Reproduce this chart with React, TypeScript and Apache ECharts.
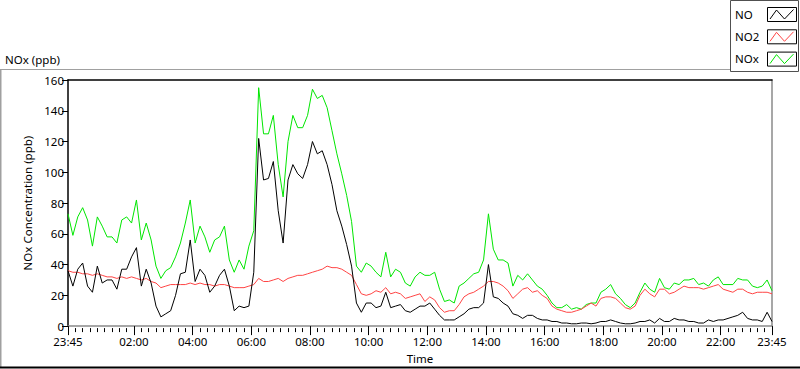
import React, { useEffect, useRef } from 'react';
import * as echarts from 'echarts';

// Sampling: every 10 minutes starting at 23:45 of the previous day (minutes since 00:00)
const START_MIN = -15;
const STEP_MIN = 10;

const NOxValues = [
  73, 59, 71, 77, 69, 52, 71, 65, 58, 58, 54, 69, 71, 67, 82, 56, 67, 56, 39, 31, 36, 38, 45, 54, 67, 82, 54, 65, 58, 48, 56, 58, 65, 43, 35, 43, 37,
  52, 62, 155, 125, 125, 137, 105, 84, 120, 137, 129, 129, 137, 154, 148, 150, 142, 127, 112, 99, 85, 68, 39, 35, 41, 39, 35, 32, 48, 32, 37, 35, 28, 26, 32, 35,
  33, 33, 35, 24, 16, 17, 15, 26, 28, 31, 34, 35, 43, 73, 50, 43, 43, 41, 26, 33, 30, 34, 30, 26, 24, 20, 15, 12, 12, 14, 11, 12, 11, 14, 15,
  15, 22, 24, 27, 21, 18, 14, 12, 15, 22, 28, 24, 22, 31, 25, 24, 28, 27, 30, 30, 31, 27, 28, 26, 30, 32, 27, 27, 27, 31, 30, 30, 26, 25, 26, 30, 23,
];

const NO2Values = [
  36, 35, 35, 34, 34, 33, 34, 33, 32, 32, 31, 32, 31, 32, 31, 30, 31, 29, 28, 25, 26, 27, 27, 27, 27, 28, 27, 28, 27, 27, 26, 27, 27, 26, 25, 25, 25,
  26, 27, 31, 29, 29, 30, 31, 29, 31, 32, 33, 33, 34, 35, 36, 37, 39, 38, 38, 37, 35, 33, 27, 21, 20, 21, 23, 22, 25, 21, 22, 21, 18, 19, 20, 21,
  16, 19, 17, 12, 9, 10, 10, 14, 19, 21, 22, 24, 26, 29, 29, 28, 26, 23, 18, 21, 24, 25, 22, 23, 20, 18, 13, 11, 10, 9, 9, 10, 11, 13, 15,
  13, 18, 19, 19, 18, 15, 12, 11, 13, 20, 24, 21, 19, 24, 24, 21, 22, 24, 26, 25, 25, 25, 24, 25, 26, 27, 24, 23, 22, 24, 24, 22, 21, 22, 22, 22, 21,
];

const NOValues = [
  36, 26, 37, 41, 26, 22, 39, 28, 30, 30, 24, 37, 37, 45, 51, 26, 37, 28, 13, 6, 8, 10, 20, 34, 35, 56, 29, 37, 33, 22, 26, 33, 37, 26, 10, 13, 12,
  13, 35, 122, 95, 96, 107, 75, 54, 95, 105, 99, 96, 105, 120, 112, 114, 105, 92, 75, 65, 53, 39, 15, 9, 15, 15, 12, 13, 22, 12, 13, 14, 10, 9, 11, 13,
  13, 15, 11, 7, 4, 4, 4, 6, 8, 11, 12, 12, 15, 40, 19, 18, 15, 13, 8, 7, 5, 7, 7, 5, 4, 4, 3, 3, 2, 2, 1.5, 1.5, 2, 2, 1.5,
  2, 3, 3, 4, 3, 2, 1.5, 1.5, 2, 3, 3, 4, 2, 5, 3, 3, 5, 4, 4, 3, 3, 2, 2, 4, 3, 4, 4, 5, 6, 7, 9, 5, 4, 4, 3, 9, 3,
];

const X_MIN = -15;
const X_MAX = 1425;
const MAJOR_TICKS = [-15, 120, 240, 360, 480, 600, 720, 840, 960, 1080, 1200, 1320, 1425];
const MINOR_STEP = 15;
const Y_MIN = 0;
const Y_MAX = 160;
const Y_INTERVAL = 20;

const LEGEND_ITEMS = [
  { name: 'NO', color: '#000000' },
  { name: 'NO2', color: '#ff4444' },
  { name: 'NOx', color: '#00e600' },
];

const FONT = "'Noto Sans', 'Open Sans', sans-serif";

function fmtTime(v: number): string {
  const m = (((Math.round(v) % 1440) + 1440) % 1440);
  const h = Math.floor(m / 60);
  const mm = m % 60;
  return String(h).padStart(2, '0') + ':' + String(mm).padStart(2, '0');
}

function toPairs(vals: number[]) {
  return vals.map((v, i) => [START_MIN + i * STEP_MIN, v]);
}

export default function App() {
  const ref = useRef<HTMLDivElement>(null);

  useEffect(() => {
    document.body.style.margin = '0';
    if (!ref.current) return;
    const chart = echarts.init(ref.current, undefined, { renderer: 'svg' });

    const minorTicks: number[] = [];
    for (let t = X_MIN; t <= X_MAX; t += MINOR_STEP) minorTicks.push(t);

    const legendGraphics: any[] = [
      {
        type: 'rect',
        shape: { x: 730.5, y: 0.5, width: 68, height: 71 },
        style: { fill: '#ffffff', stroke: '#505050', lineWidth: 1 },
      },
    ];
    LEGEND_ITEMS.forEach((it, k) => {
      const y0 = 7.5 + k * 22.3;
      legendGraphics.push({
        type: 'text',
        x: 735,
        y: y0 + 6.5,
        style: { text: it.name, fill: '#000', font: `11.5px ${FONT}`, verticalAlign: 'middle', align: 'left' },
      });
      legendGraphics.push({
        type: 'rect',
        shape: { x: 767.5, y: y0, width: 29, height: 14 },
        style: { fill: '#ffffff', stroke: '#000000', lineWidth: 1 },
      });
      legendGraphics.push({
        type: 'polyline',
        shape: {
          points: [
            [770, y0 + 11.5],
            [776.5, y0 + 2.5],
            [784.5, y0 + 11.5],
            [793.5, y0 + 2],
          ],
        },
        style: { stroke: it.color, lineWidth: 1, fill: 'none' },
      });
    });

    const option: any = {
      animation: false,
      backgroundColor: '#ffffff',
      textStyle: { fontFamily: FONT },
      grid: { left: 68, right: 28, top: 80, bottom: 40, containLabel: false },
      xAxis: [
        {
          type: 'value',
          min: X_MIN,
          max: X_MAX,
          position: 'bottom',
          axisLine: { show: true, onZero: false, lineStyle: { color: '#8a8a8a', width: 1.5 } },
          axisTick: { show: true, customValues: minorTicks, length: 6, lineStyle: { color: '#000', type: [0, 2, 4, 100] } },
          axisLabel: { show: false },
          splitLine: { show: false },
        },
        {
          type: 'value',
          min: X_MIN,
          max: X_MAX,
          position: 'bottom',
          axisLine: { show: false, onZero: false },
          axisTick: { show: true, customValues: MAJOR_TICKS, length: 9, lineStyle: { color: '#000' } },
          axisLabel: {
            show: true,
            customValues: MAJOR_TICKS,
            formatter: (v: number) => fmtTime(v),
            color: '#000',
            fontSize: 11.5,
            fontFamily: FONT,
            margin: 9,
            showMinLabel: true,
            showMaxLabel: true,
            hideOverlap: false,
          },
          splitLine: { show: false },
          name: 'Time',
          nameLocation: 'middle',
          nameGap: 25,
          nameTextStyle: { color: '#000', fontSize: 11.5, fontFamily: FONT },
        },
        {
          type: 'value',
          min: X_MIN,
          max: X_MAX,
          position: 'top',
          axisLine: { show: true, onZero: false, lineStyle: { color: '#000', width: 1.5 } },
          axisTick: { show: false },
          axisLabel: { show: false },
          splitLine: { show: false },
        },
      ],
      yAxis: [
        {
          type: 'value',
          min: Y_MIN,
          max: Y_MAX,
          interval: Y_INTERVAL,
          position: 'left',
          axisLine: { show: true, onZero: false, lineStyle: { color: '#000', width: 1.5 } },
          axisTick: { show: true, length: 6, lineStyle: { color: '#000' } },
          axisLabel: { show: true, color: '#000', fontSize: 11.5, fontFamily: FONT, margin: 4 },
          splitLine: { show: false },
          name: 'NOx Concentration (ppb)',
          nameLocation: 'middle',
          nameGap: 31,
          nameRotate: 90,
          nameTextStyle: { color: '#000', fontSize: 11.5, fontFamily: FONT },
        },
        {
          type: 'value',
          min: Y_MIN,
          max: Y_MAX,
          position: 'right',
          axisLine: { show: true, onZero: false, lineStyle: { color: '#8a8a8a', width: 1.5 } },
          axisTick: { show: false },
          axisLabel: { show: false },
          splitLine: { show: false },
        },
      ],
      series: [
        {
          name: 'NOx',
          type: 'line',
          xAxisIndex: 0,
          yAxisIndex: 0,
          data: toPairs(NOxValues),
          showSymbol: false,
          lineStyle: { color: '#00e600', width: 1 },
          z: 2,
        },
        {
          name: 'NO2',
          type: 'line',
          xAxisIndex: 0,
          yAxisIndex: 0,
          data: toPairs(NO2Values),
          showSymbol: false,
          lineStyle: { color: '#ff4444', width: 1 },
          z: 3,
        },
        {
          name: 'NO',
          type: 'line',
          xAxisIndex: 0,
          yAxisIndex: 0,
          data: toPairs(NOValues),
          showSymbol: false,
          lineStyle: { color: '#000000', width: 1 },
          z: 4,
        },
      ],
      graphic: [
        {
          type: 'text',
          x: 5,
          y: 59,
          style: { text: 'NOx (ppb)', fill: '#000', font: `11.5px ${FONT}`, verticalAlign: 'middle' },
        },
        { type: 'line', shape: { x1: 0, y1: 69.5, x2: 730, y2: 69.5 }, style: { stroke: '#a0a0a0', lineWidth: 1 } },
        { type: 'line', shape: { x1: 0.75, y1: 69, x2: 0.75, y2: 367 }, style: { stroke: '#a0a0a0', lineWidth: 1.5 } },
        { type: 'line', shape: { x1: 0, y1: 367.5, x2: 800, y2: 367.5 }, style: { stroke: '#000', lineWidth: 2 } },
        ...legendGraphics,
      ],
    };

    chart.setOption(option);
    return () => chart.dispose();
  }, []);

  return <div ref={ref} style={{ width: 800, height: 369 }} />;
}
